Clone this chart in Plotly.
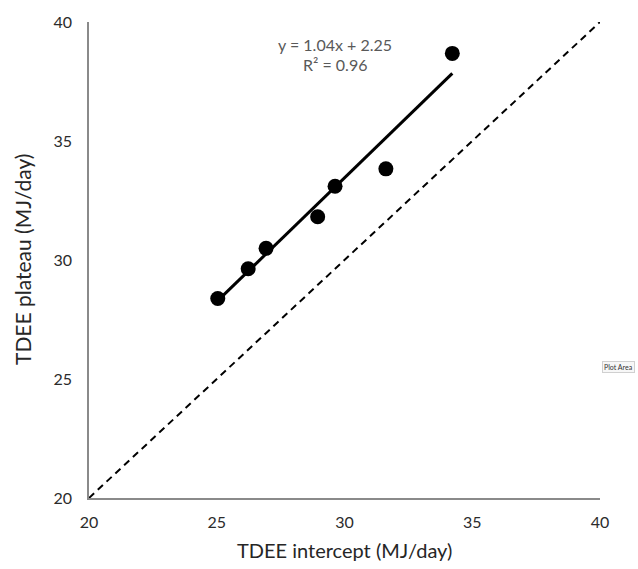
import plotly.graph_objects as go

# Data
tdee_intercept = [25.04, 26.23, 26.93, 28.95, 29.63, 31.62, 34.22]
tdee_plateau = [28.38, 29.63, 30.49, 31.82, 33.10, 33.83, 38.68]
fit_slope = 1.04
fit_intercept = 2.25
r_squared = 0.96
identity_range = [20, 40]
tick_vals = [20, 25, 30, 35, 40]

x_min, x_max = min(tdee_intercept), max(tdee_intercept)
fit_x = [x_min, x_max]
fit_y = [fit_slope * v + fit_intercept for v in fit_x]

fig = go.Figure()
fig.add_trace(go.Scatter(x=identity_range, y=identity_range, mode="lines",
                         line=dict(color="black", width=2, dash="7px,5px"),
                         hoverinfo="skip", showlegend=False))
fig.add_trace(go.Scatter(x=fit_x, y=fit_y, mode="lines",
                         line=dict(color="black", width=3),
                         showlegend=False))
fig.add_trace(go.Scatter(x=tdee_intercept, y=tdee_plateau, mode="markers",
                         marker=dict(color="black", size=15),
                         showlegend=False, cliponaxis=False))

font_family = "Lato, 'Open Sans', sans-serif"
axis_common = dict(range=[20, 40], tickvals=tick_vals, showgrid=False, zeroline=False,
                   showline=True, linecolor="#8a8a8a", linewidth=1.5, ticks="",
                   tickfont=dict(family=font_family, size=16, color="#2b2b2b"),
                   fixedrange=True)
fig.update_xaxes(**axis_common, ticklabelstandoff=9)
fig.update_yaxes(**axis_common, ticklabelstandoff=12)

annotations = [
    dict(x=29.63, y=39.05, xref="x", yref="y", text=f"y = {fit_slope:.2f}x + {fit_intercept:.2f}",
         showarrow=False, font=dict(family=font_family, size=16, color="#595959")),
    dict(x=29.63, y=38.2, xref="x", yref="y", text=f"R² = {r_squared:.2f}",
         showarrow=False, font=dict(family=font_family, size=16, color="#595959")),
    dict(x=0.5, y=0, xref="paper", yref="paper", yshift=-52, text="TDEE intercept (MJ/day)",
         showarrow=False, yanchor="middle",
         font=dict(family=font_family, size=20, color="#262626")),
    dict(x=0, y=0.5, xref="paper", yref="paper", xshift=-67, text="TDEE plateau (MJ/day)",
         showarrow=False, textangle=-90, xanchor="center",
         font=dict(family=font_family, size=21, color="#262626")),
    dict(x=1, y=0.263, xref="paper", yref="paper", xshift=18, xanchor="center", text="Plot Area",
         showarrow=False, bgcolor="#f7f7f7", bordercolor="#d0d0d0", borderwidth=1,
         borderpad=1, font=dict(family=font_family, size=7, color="#333333")),
]

fig.update_layout(
    width=638, height=569,
    margin=dict(l=89, r=38, t=19, b=71),
    paper_bgcolor="white", plot_bgcolor="white",
    annotations=annotations,
    showlegend=False,
)

fig.write_html("out.html")
